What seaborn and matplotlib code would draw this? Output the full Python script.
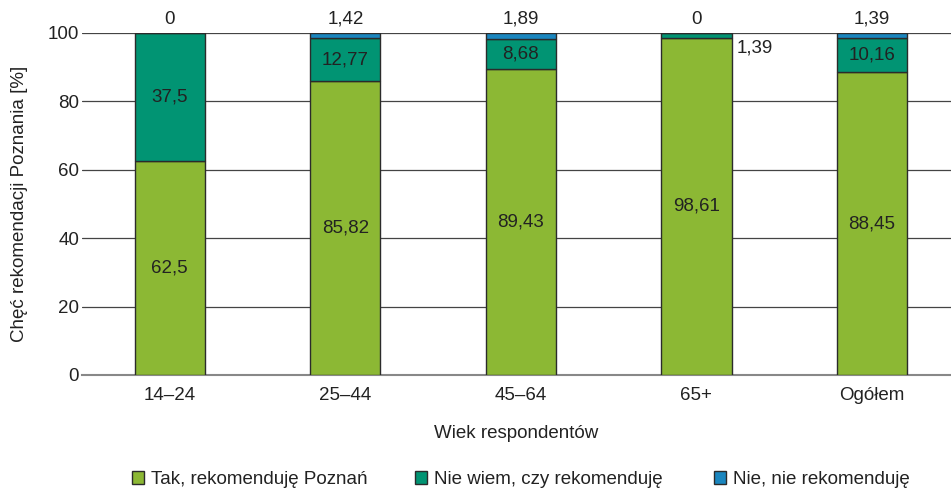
import matplotlib
matplotlib.use("Agg")
import matplotlib.pyplot as plt
import seaborn as sns
import pandas as pd
from matplotlib.patches import Patch

# Survey results: willingness to recommend Poznań, by age group
groups = ["14–24", "25–44", "45–64", "65+", "Ogółem"]
tak = [62.5, 85.82, 89.43, 98.61, 88.45]
nie_wiem = [37.5, 12.77, 8.68, 1.39, 10.16]
nie = [0, 1.42, 1.89, 0, 1.39]

series_names = ["Tak, rekomenduję Poznań", "Nie wiem, czy rekomenduję", "Nie, nie rekomenduję"]
colors = ["#8cb834", "#019473", "#1a86bf"]

sns.set_theme(style="white")
plt.rcParams["font.family"] = ["Liberation Sans", "DejaVu Sans"]

FS = 13.5
fig = plt.figure(figsize=(9.51, 4.91), dpi=100)
ax = fig.add_axes([0.0862, 0.2363, 0.9138, 0.6965])

df = pd.DataFrame({"grupa": groups, "tak": tak, "nie_wiem": nie_wiem, "nie": nie})
bottom_nw = df["tak"]
bottom_n = df["tak"] + df["nie_wiem"]

edge = "#2b2b2b"
sns.barplot(data=df, x="grupa", y="tak", color=colors[0], width=0.4,
            edgecolor=edge, linewidth=1, saturation=1, ax=ax, zorder=3)
sns.barplot(data=df, x="grupa", y="nie_wiem", bottom=bottom_nw, color=colors[1], width=0.4,
            edgecolor=edge, linewidth=1, saturation=1, ax=ax, zorder=3)
sns.barplot(data=df, x="grupa", y="nie", bottom=bottom_n, color=colors[2], width=0.4,
            edgecolor=edge, linewidth=1, saturation=1, ax=ax, zorder=3)

def fmt(v):
    return f"{v:g}".replace(".", ",")

txt = "#222222"
for i in range(len(groups)):
    # main segment label
    ax.text(i, tak[i] / 2, fmt(tak[i]), ha="center", va="center", fontsize=FS, color=txt, zorder=5)
    # middle segment label: inside when tall enough, otherwise beside the bar
    if nie_wiem[i] >= 5:
        ax.text(i, tak[i] + nie_wiem[i] / 2, fmt(nie_wiem[i]), ha="center", va="center",
                fontsize=FS, color=txt, zorder=5)
    else:
        ax.text(i + 0.23, 95.5, fmt(nie_wiem[i]), ha="left", va="center",
                fontsize=FS, color=txt, zorder=5)
    # top segment label above the bar
    ax.text(i, 101.6, fmt(nie[i]), ha="center", va="bottom", fontsize=FS, color=txt, zorder=5)

ax.set_ylim(0, 100)
ax.set_xlim(-0.5, 4.45)
ax.set_yticks([0, 20, 40, 60, 80, 100])
ax.yaxis.grid(True, color="#444444", linewidth=0.9, zorder=0)
ax.set_axisbelow(True)
for s in ["left", "right", "top"]:
    ax.spines[s].set_visible(False)
ax.spines["bottom"].set_color("#888888")
ax.spines["bottom"].set_linewidth(1.5)
ax.tick_params(axis="both", length=0, labelsize=FS, colors=txt)
ax.tick_params(axis="y", pad=2)
ax.tick_params(axis="x", pad=9)
ax.set_xlabel("Wiek respondentów", fontsize=FS, color=txt, labelpad=15)
ax.set_ylabel("Chęć rekomendacji Poznania [%]", fontsize=FS, color=txt, labelpad=14)

# legend entries sit at fixed positions along the bottom
legend_x = [0.1388, 0.4364, 0.7508]
for name, c, x in zip(series_names, colors, legend_x):
    fig.legend([Patch(facecolor=c, edgecolor=edge, linewidth=1)], [name],
               loc="center left", bbox_to_anchor=(x, 0.024), frameon=False,
               fontsize=FS, handlelength=0.65, handleheight=0.75, handletextpad=0.38,
               borderpad=0, borderaxespad=0, labelcolor=txt)

fig.savefig("out.png", dpi=100)
